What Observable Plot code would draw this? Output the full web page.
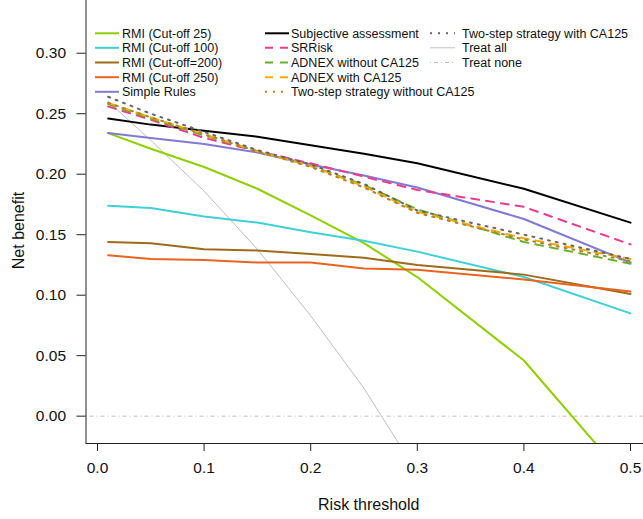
<!DOCTYPE html>
<html><head><meta charset="utf-8">
<script src="https://cdn.jsdelivr.net/npm/d3@7"></script>
<script src="https://cdn.jsdelivr.net/npm/@observablehq/plot@0.6"></script>
<style>
html,body{margin:0;padding:0;background:#fff;}
#wrap{position:relative;width:643px;height:519px;overflow:hidden;font-family:"Liberation Sans",Arial,sans-serif;}
#wrap svg{position:absolute;left:0;top:0;}
</style></head><body><div id="wrap"></div>
<script>
// ---- data ----
const thresholds = [0.01, 0.05, 0.10, 0.15, 0.20, 0.25, 0.30, 0.40, 0.50];
const rmi25          = [0.234, 0.221, 0.206, 0.188, 0.166, 0.143, 0.115, 0.046, -0.056];
const rmi100         = [0.174, 0.172, 0.165, 0.160, 0.152, 0.145, 0.136, 0.115, 0.085];
const rmi200         = [0.144, 0.143, 0.138, 0.137, 0.134, 0.131, 0.125, 0.117, 0.101];
const rmi250         = [0.133, 0.130, 0.129, 0.127, 0.127, 0.122, 0.121, 0.113, 0.103];
const simpleRules    = [0.234, 0.230, 0.225, 0.218, 0.208, 0.199, 0.189, 0.163, 0.127];
const subjective     = [0.246, 0.241, 0.236, 0.231, 0.224, 0.217, 0.209, 0.188, 0.160];
const srrisk         = [0.256, 0.245, 0.230, 0.219, 0.209, 0.198, 0.187, 0.173, 0.142];
const adnexWithout   = [0.258, 0.246, 0.232, 0.219, 0.207, 0.191, 0.171, 0.144, 0.126];
const adnexWith      = [0.259, 0.247, 0.233, 0.219, 0.207, 0.190, 0.169, 0.147, 0.130];
const twoStepWithout = [0.259, 0.247, 0.233, 0.219, 0.206, 0.189, 0.168, 0.146, 0.128];
const twoStepWith    = [0.264, 0.250, 0.235, 0.220, 0.208, 0.192, 0.170, 0.150, 0.130];
const treatAllThresholds = [0.01, 0.05, 0.10, 0.15, 0.20, 0.25, 0.30];
const treatAll           = [0.260, 0.228, 0.186, 0.138, 0.083, 0.023, -0.047];
const treatNone = [0];

const xTicks = [0, 0.1, 0.2, 0.3, 0.4, 0.5];
const yTicks = [0, 0.05, 0.10, 0.15, 0.20, 0.25, 0.30];
const xDomain = [-0.0108, 0.5122];
const yDomain = [-0.0226, 0.3436];

const seriesNames = [
  "RMI (Cut-off 25)", "RMI (Cut-off 100)", "RMI (Cut-off=200)", "RMI (Cut-off 250)", "Simple Rules",
  "Subjective assessment", "SRRisk", "ADNEX without CA125", "ADNEX with CA125", "Two-step strategy without CA125",
  "Two-step strategy with CA125", "Treat all", "Treat none"
];
const seriesValues = [rmi25, rmi100, rmi200, rmi250, simpleRules, subjective, srrisk,
  adnexWithout, adnexWith, twoStepWithout, twoStepWith];

// ---- styles ----
const seriesColors = ["#8fcf00", "#3fd0d6", "#9e6b1a", "#e8641e", "#7f7bd0",
  "#000000", "#ee3a8c", "#68ad2f", "#f5ab00", "#b0832a", "#666666", "#bebebe", "#bebebe"];
const seriesDash = [null, null, null, null, null, null, "8,7", "8,7", "8,7", "2,6", "2,6", null, "1,3,4,3"];
const seriesWidth = [2, 2, 2, 2, 2, 2, 2, 2, 2, 2, 2, 1, 1];

const tables = seriesValues.map(vals => thresholds.map((t, i) => ({t, nb: vals[i]})));
const treatAllTable = treatAllThresholds.map((t, i) => ({t, nb: treatAll[i]}));

const marks = [
  Plot.ruleY(treatNone, {stroke: seriesColors[12], strokeWidth: 1, strokeDasharray: seriesDash[12]}),
  Plot.line(treatAllTable, {x: "t", y: "nb", stroke: seriesColors[11], strokeWidth: 1, clip: true})
];
const order = [0,1,2,3,4,5,6,7,8,9,10];
order.forEach(k => {
  marks.push(Plot.line(tables[k], {x: "t", y: "nb", stroke: seriesColors[k], strokeWidth: seriesWidth[k],
    strokeDasharray: seriesDash[k] || undefined, clip: true}));
});
marks.push(
  Plot.ruleX([xDomain[0]], {stroke: "#222"}),
  Plot.ruleY([yDomain[0]], {stroke: "#222"}),
  Plot.axisX({ticks: xTicks, tickSize: 8, tickPadding: 10, tickFormat: d => d.toFixed(1), label: null, stroke: "#222"}),
  Plot.axisY({ticks: yTicks, tickSize: 9, tickPadding: 11, tickFormat: d => d.toFixed(2), label: null, stroke: "#222"}),
  Plot.text(["Risk threshold"], {frameAnchor: "bottom", textAnchor: "middle", dx: 4, dy: 66, fontSize: 16}),
  Plot.text(["Net benefit"], {frameAnchor: "left", textAnchor: "middle", rotate: -90, dx: -67.5, dy: 8.5, fontSize: 16})
);

const chart = Plot.plot({
  width: 643, height: 519,
  marginLeft: 85.5, marginRight: 0, marginTop: 0, marginBottom: 76,
  x: {domain: xDomain}, y: {domain: yDomain},
  style: {fontFamily: "Liberation Sans, Arial, sans-serif", fontSize: "15.5px", color: "#111", background: "transparent"},
  marks
});
document.getElementById("wrap").appendChild(chart);

// ---- legend (overlay) ----
const legendCols = [{x0: 95, x1: 119, tx: 122}, {x0: 265, x1: 289, tx: 291}, {x0: 430, x1: 455, tx: 462}];
const legendRowsY = [33.3, 47.8, 62.5, 77.2, 91.8];
const legendLayout = [[0,1,2,3,4],[5,6,7,8,9],[10,11,12]];
const leg = d3.select("#wrap").append("svg").attr("width", 643).attr("height", 110)
  .style("font-family", "Liberation Sans, Arial, sans-serif").style("font-size", "12.5px");
legendLayout.forEach((col, ci) => {
  col.forEach((k, ri) => {
    const c = legendCols[ci], y = legendRowsY[ri];
    leg.append("line").attr("x1", c.x0).attr("x2", c.x1).attr("y1", y).attr("y2", y)
      .attr("stroke", seriesColors[k]).attr("stroke-width", seriesWidth[k])
      .attr("stroke-dasharray", seriesDash[k]);
    leg.append("text").attr("x", c.tx).attr("y", y).attr("dy", "0.35em").attr("fill", "#111").text(seriesNames[k]);
  });
});
</script>
</body></html>
